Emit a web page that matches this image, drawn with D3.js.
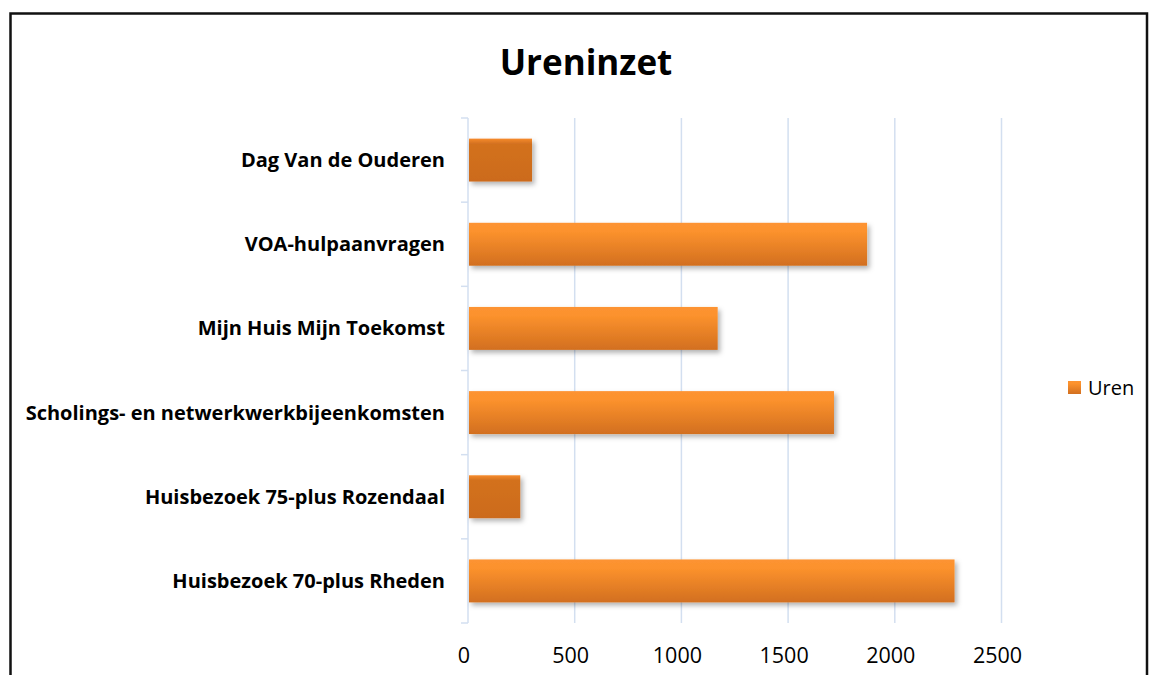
<!DOCTYPE html>
<html>
<head>
<meta charset="utf-8">
<script src="https://cdn.jsdelivr.net/npm/d3@7"></script>
<style>
  body { margin: 0; background: #fff; }
  svg { display: block; }
</style>
</head>
<body>
<div id="chart"></div>
<script>
const categories = [
  'Dag Van de Ouderen',
  'VOA-hulpaanvragen',
  'Mijn Huis Mijn Toekomst',
  'Scholings- en netwerkwerkbijeenkomsten',
  'Huisbezoek 75-plus Rozendaal',
  'Huisbezoek 70-plus Rheden'
]
const uren = [300, 1870, 1170, 1715, 245, 2280]
const xTicks = [0, 500, 1000, 1500, 2000, 2500]
const seriesName = 'Uren'
const title = 'Ureninzet'

const font = '"Open Sans", sans-serif'
const width = 1149
const height = 675
const margin = { top: 118, left: 468, right: 1149 - 1001.5, bottom: 675 - 623 }

const svg = d3
  .select('#chart')
  .append('svg')
  .attr('width', width)
  .attr('height', height)

const defs = svg.append('defs')

const grad = defs.append('linearGradient')
  .attr('id', 'barGrad')
  .attr('x1', 0).attr('y1', 0).attr('x2', 0).attr('y2', 1)
grad.append('stop').attr('offset', '0%').attr('stop-color', '#fd9331')
grad.append('stop').attr('offset', '20%').attr('stop-color', '#fc922d')
grad.append('stop').attr('offset', '100%').attr('stop-color', '#d26f1f')

// short bars show mostly the dark end of the fill
const gradShort = defs.append('linearGradient')
  .attr('id', 'barGradShort')
  .attr('x1', 0).attr('y1', 0).attr('x2', 0).attr('y2', 1)
gradShort.append('stop').attr('offset', '0%').attr('stop-color', '#f78b2c')
gradShort.append('stop').attr('offset', '12%').attr('stop-color', '#d3711f')
gradShort.append('stop').attr('offset', '100%').attr('stop-color', '#cc6b1f')

const shadow = defs.append('filter')
  .attr('id', 'shadow')
  .attr('x', '-10%').attr('y', '-20%')
  .attr('width', '130%').attr('height', '160%')
shadow.append('feDropShadow')
  .attr('dx', 2.5).attr('dy', 3)
  .attr('stdDeviation', 2.5)
  .attr('flood-color', '#000')
  .attr('flood-opacity', 0.3)

// outer frame
svg.append('rect')
  .attr('x', 10.5)
  .attr('y', 13.5)
  .attr('width', 1136.5)
  .attr('height', 700)
  .attr('fill', 'none')
  .attr('stroke', '#111')
  .attr('stroke-width', 2.5)

svg.append('text')
  .attr('x', 586)
  .attr('y', 75)
  .attr('text-anchor', 'middle')
  .attr('font-family', font)
  .attr('font-weight', 'bold')
  .attr('font-size', 35)
  .attr('fill', '#000')
  .text(title)

const x = d3.scaleLinear()
  .domain([0, 2500])
  .range([margin.left, width - margin.right])

const y = d3.scaleBand()
  .domain(categories)
  .range([margin.top, height - margin.bottom])
  .paddingInner(0.49)
  .paddingOuter(0.245)

// gridlines
svg.append('g')
  .selectAll('line')
  .data(xTicks.slice(1))
  .enter()
  .append('line')
  .attr('x1', d => x(d))
  .attr('x2', d => x(d))
  .attr('y1', margin.top)
  .attr('y2', height - margin.bottom)
  .attr('stroke', '#d3dff0')
  .attr('stroke-width', 1.5)

// category axis line + ticks at band boundaries
const boundaries = d3.range(categories.length + 1).map(i => margin.top + i * (height - margin.top - margin.bottom) / categories.length)
const axisG = svg.append('g')
axisG.append('line')
  .attr('x1', x(0)).attr('x2', x(0))
  .attr('y1', margin.top).attr('y2', height - margin.bottom)
  .attr('stroke', '#d3dff0')
  .attr('stroke-width', 1.5)
axisG.selectAll('.tick')
  .data(boundaries)
  .enter()
  .append('line')
  .attr('class', 'tick')
  .attr('x1', x(0) - 7).attr('x2', x(0))
  .attr('y1', d => d).attr('y2', d => d)
  .attr('stroke', '#d3dff0')
  .attr('stroke-width', 1.5)

// bars
svg.append('g')
  .selectAll('.bar')
  .data(categories)
  .enter()
  .append('rect')
  .attr('class', 'bar')
  .attr('x', x(0) + 1)
  .attr('y', d => y(d))
  .attr('width', (d, i) => x(uren[i]) - x(0) - 1)
  .attr('height', y.bandwidth())
  .attr('fill', (d, i) => uren[i] < 500 ? 'url(#barGradShort)' : 'url(#barGrad)')
  .attr('filter', 'url(#shadow)')

// category labels
svg.append('g')
  .selectAll('.cat')
  .data(categories)
  .enter()
  .append('text')
  .attr('class', 'cat')
  .attr('x', 445)
  .attr('y', d => y(d) + y.bandwidth() / 2)
  .attr('dy', '0.35em')
  .attr('text-anchor', 'end')
  .attr('font-family', font)
  .attr('font-weight', 'bold')
  .attr('font-size', 20)
  .attr('fill', '#000')
  .text(d => d)

// value axis labels
svg.append('g')
  .selectAll('.xl')
  .data(xTicks)
  .enter()
  .append('text')
  .attr('class', 'xl')
  .attr('x', d => x(d) - 4)
  .attr('y', 663)
  .attr('text-anchor', 'middle')
  .attr('font-family', font)
  .attr('font-size', 21.5)
  .attr('fill', '#000')
  .text(d => d)

// legend
const legend = svg.append('g').attr('transform', 'translate(1068,381)')
legend.append('rect')
  .attr('width', 13)
  .attr('height', 13)
  .attr('fill', 'url(#barGrad)')
legend.append('text')
  .attr('x', 20)
  .attr('y', 7)
  .attr('dy', '0.35em')
  .attr('font-family', font)
  .attr('font-size', 20)
  .attr('fill', '#000')
  .text(seriesName)
</script>
</body>
</html>
